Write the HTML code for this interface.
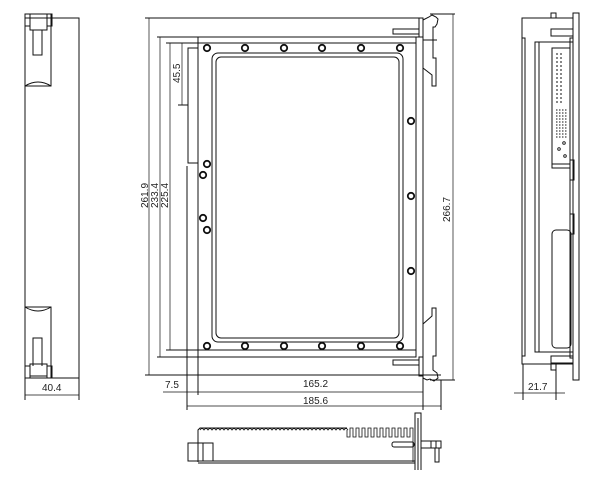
<!DOCTYPE html>
<html><head><meta charset="utf-8"><style>
html,body{margin:0;padding:0;background:#fff;}
svg{display:block;}
text{font-family:"Liberation Sans",sans-serif;font-size:10px;fill:#222;stroke:none;}
</style></head><body>
<svg width="601" height="477" viewBox="0 0 601 477" xmlns="http://www.w3.org/2000/svg" fill="none" stroke="#111" stroke-width="1">
<!-- LEFT VIEW -->
<rect x="25" y="18" width="54" height="360"/>
<g>
<rect x="25" y="14" width="26" height="72"/>
<rect x="25" y="14" width="5" height="12"/><rect x="47" y="14" width="5" height="12"/>
<rect x="30" y="18" width="17" height="12"/>
<path d="M33 30 V55 H42 V30"/>
<path d="M25 86 Q38 78 51 86"/>
</g>
<g>
<rect x="25" y="307" width="26" height="71"/>
<path d="M25 307 Q38 315 51 307"/>
<path d="M33 366 V338 H42 V366"/>
<rect x="30" y="364" width="17" height="12"/>
<rect x="25" y="366" width="5" height="12"/><rect x="47" y="366" width="5" height="12"/>
</g>
<line x1="25" y1="378" x2="25" y2="400"/><line x1="79" y1="378" x2="79" y2="400"/>
<line x1="25" y1="395" x2="79" y2="395" stroke-width="0.7"/>
<text x="42" y="391">40.4</text>

<!-- FRONT VIEW -->
<line x1="145" y1="18" x2="420" y2="18"/>
<line x1="157" y1="37" x2="198" y2="37"/>
<line x1="145" y1="375" x2="441" y2="375"/>
<line x1="157" y1="357" x2="198" y2="357"/>
<line x1="166" y1="43" x2="198" y2="43"/>
<line x1="166" y1="350" x2="198" y2="350"/>
<line x1="149" y1="18" x2="149" y2="375" stroke-width="0.7"/>
<line x1="160" y1="37" x2="160" y2="357" stroke-width="0.7"/>
<line x1="170" y1="43" x2="170" y2="350" stroke-width="0.7"/>
<line x1="182" y1="43" x2="182" y2="105" stroke-width="0.7"/>
<line x1="178" y1="105" x2="188" y2="105"/>
<text transform="translate(148,208) rotate(-90)">261.9</text>
<text transform="translate(158,208) rotate(-90)">233.4</text>
<text transform="translate(168,208) rotate(-90)">225.4</text>
<text transform="translate(180,83) rotate(-90)">45.5</text>
<path d="M198 48 H188 V163 H198"/>
<line x1="187" y1="166" x2="187" y2="410"/>
<rect x="198" y="37" width="218" height="320"/>
<line x1="198" y1="43" x2="416" y2="43"/>
<line x1="198" y1="350" x2="416" y2="350"/>
<rect x="212" y="53" width="191" height="289" rx="6"/>
<rect x="216" y="57" width="183" height="281" rx="5"/>
<g id="screws" fill="#fff" stroke="#111" stroke-width="1.8">
<circle cx="207" cy="48" r="3.2"/><circle cx="245" cy="48" r="3.2"/><circle cx="284" cy="48" r="3.2"/><circle cx="322" cy="48" r="3.2"/><circle cx="361" cy="48" r="3.2"/><circle cx="400" cy="48" r="3.2"/>
<circle cx="207" cy="346" r="3.2"/><circle cx="245" cy="346" r="3.2"/><circle cx="284" cy="346" r="3.2"/><circle cx="322" cy="346" r="3.2"/><circle cx="361" cy="346" r="3.2"/><circle cx="400" cy="346" r="3.2"/>
<circle cx="207" cy="164" r="3.2"/><circle cx="203" cy="175" r="3.2"/><circle cx="203" cy="218" r="3.2"/><circle cx="207" cy="230" r="3.2"/>
<circle cx="411" cy="121" r="3.2"/><circle cx="411" cy="196" r="3.2"/><circle cx="411" cy="271" r="3.2"/>
</g>
<line x1="423" y1="18" x2="423" y2="410"/>
<line x1="416" y1="37" x2="423" y2="37"/>
<rect x="419" y="18" width="4" height="19"/>
<rect x="393" y="29" width="26" height="5"/>
<path d="M423 20 L429 17 L432 15 L436 17 L438 19 L437 24 L435 27 L433 27 V58 H436 V86 L432 86 L432 75 L423 68"/>
<line x1="423" y1="40" x2="437" y2="40"/>
<rect x="419" y="357" width="4" height="19"/>
<rect x="393" y="360" width="26" height="5"/>
<path d="M423 324 L432 316 L432 308 L436 308 V356 H433 V370 L437 373 L438 378 L434 381 L430 379 L427 380 L423 378"/>
<line x1="430" y1="14" x2="455" y2="14"/>
<line x1="430" y1="380" x2="455" y2="380"/>
<line x1="453" y1="14" x2="453" y2="380" stroke-width="0.7"/>
<text transform="translate(450,222) rotate(-90)">266.7</text>
<line x1="198" y1="357" x2="198" y2="395"/>
<line x1="163" y1="392" x2="423" y2="392" stroke-width="0.7"/>
<line x1="441" y1="380" x2="441" y2="410"/>
<line x1="187" y1="406" x2="441" y2="406" stroke-width="0.7"/>
<text x="165" y="388">7.5</text>
<text x="303" y="387">165.2</text>
<text x="303" y="404">185.6</text>

<!-- BOTTOM VIEW -->
<path d="M198 462 V430 L200 428 H347" />
<path d="M200 430 q2 -3 4 0 q2 -3 4 0 q2 -3 4 0 q2 -3 4 0 q2 -3 4 0 q2 -3 4 0 q2 -3 4 0 q2 -3 4 0 q2 -3 4 0 q2 -3 4 0 q2 -3 4 0 q2 -3 4 0 q2 -3 4 0 q2 -3 4 0 q2 -3 4 0 q2 -3 4 0 q2 -3 4 0 q2 -3 4 0 q2 -3 4 0 q2 -3 4 0 q2 -3 4 0 q2 -3 4 0 q2 -3 4 0 q2 -3 4 0 q2 -3 4 0 q2 -3 4 0 q2 -3 4 0 q2 -3 4 0 q2 -3 4 0 q2 -3 4 0 q2 -3 4 0 q2 -3 4 0 q2 -3 4 0 q2 -3 4 0 q2 -3 4 0 q2 -3 4 0 q2 -3 4 0" stroke-width="0.8"/>
<path d="M347 430 V437 h3 V428 h3 V437 h3 V428 h3 V437 h3 V428 h3 V437 h3 V428 h3 V437 h3 V428 h3 V437 h3 V428 h3 V437 h3 V428 h3 V437 h3 V428 h3 V437 h3 V428 h3 V437 h3 V428 h3 V437 h3 V428 h3 V462" stroke-width="0.8"/>
<line x1="198" y1="461" x2="415" y2="461"/>
<line x1="198" y1="463" x2="415" y2="463"/>
<rect x="188" y="443" width="25" height="18"/>
<line x1="203" y1="443" x2="203" y2="461"/>
<rect x="392" y="442" width="22" height="5" rx="2"/>
<path d="M415 470 V413 H421 V470 M418 418 V470"/>
<rect x="421" y="441" width="20" height="7"/>
<line x1="431" y1="441" x2="431" y2="448"/><line x1="436" y1="441" x2="436" y2="448"/>
<rect x="435" y="448" width="4" height="14"/>

<!-- RIGHT VIEW -->
<rect x="522" y="18" width="51" height="346"/>
<rect x="522" y="38" width="3" height="318"/>
<rect x="535" y="42" width="4" height="310"/>
<line x1="539" y1="42" x2="573" y2="42"/>
<line x1="539" y1="352" x2="573" y2="352"/>
<rect x="573" y="13" width="6" height="367"/>
<rect x="570" y="38" width="3" height="320"/>
<rect x="551" y="13" width="5" height="5"/>
<rect x="551" y="364" width="5" height="6"/>
<rect x="551" y="29" width="22" height="7"/>
<rect x="551" y="356" width="22" height="7"/>
<rect x="552" y="48" width="18" height="120"/>
<line x1="552" y1="164" x2="570" y2="164"/>
<g stroke-width="0.9">
<path d="M556 54h8M556 58h8M556 62h8M556 66h8M556 70h8M556 74h8M556 78h8M556 82h8M556 86h8M556 90h8M556 94h8M556 98h8M556 102h8" stroke-dasharray="2,2"/>
<path d="M556 110h11M556 113h11M556 116h11M556 119h11M556 122h11M556 125h11M556 128h11M556 131h11M556 134h11M556 137h11" stroke-dasharray="1.5,1.5"/>
<circle cx="564" cy="143" r="1.3"/><circle cx="559" cy="149" r="1.3"/><circle cx="565" cy="156" r="1.3"/>
</g>
<rect x="552" y="230" width="19" height="118" rx="4"/>
<rect x="570" y="160" width="4" height="20"/>
<rect x="570" y="214" width="4" height="20"/>
<line x1="523" y1="364" x2="523" y2="400"/><line x1="556" y1="370" x2="556" y2="400"/>
<line x1="514" y1="393" x2="565" y2="393" stroke-width="0.7"/>
<text x="528" y="390">21.7</text>
</svg>
</body></html>
